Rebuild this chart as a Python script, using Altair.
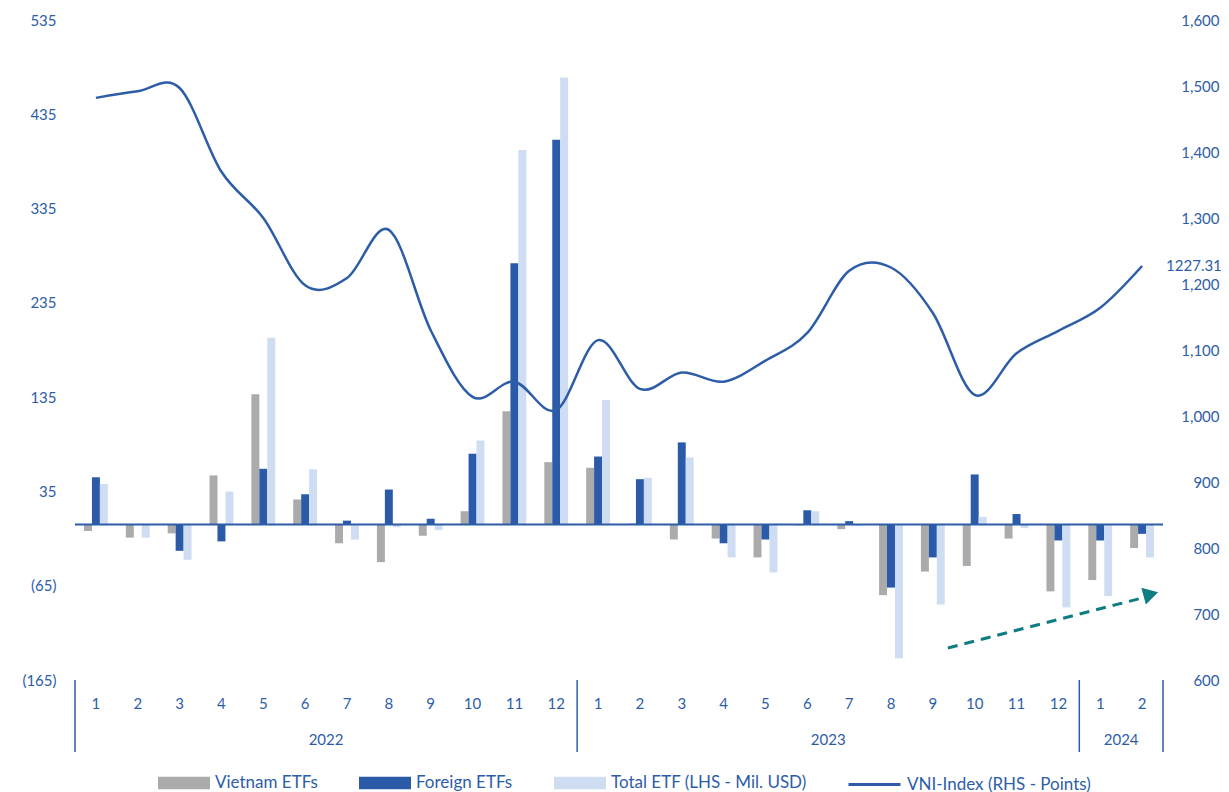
import altair as alt
import pandas as pd

# ---------------- data ----------------
years = [2022] * 12 + [2023] * 12 + [2024] * 2
months = list(range(1, 13)) + list(range(1, 13)) + [1, 2]

vietnam = [-7, -14, -9.5, 52, 138, 26.5, -20, -40, -12, 14, 120, 66,
           60, 1, -16, -15, -35, -1, -5, -75, -50, -44, -15, -71,
           -59, -25]
foreign = [50, 0, -28, -18, 59, 32, 4, 37, 6, 75, 277, 408,
           72, 48, 87, -20, -16, 15, 3.5, -67, -35, 53, 11, -17,
           -17, -10]
total = [43, -14, -37.5, 35, 198, 58.5, -16, -3, -6, 89, 397, 474,
         132, 49.5, 71, -35, -51, 14, -1.5, -142, -85, 8, -4, -88,
         -76, -35]
vni = [1482, 1492, 1497, 1370, 1300, 1198, 1209, 1282, 1130, 1029, 1052, 1009,
       1115, 1041, 1066, 1052, 1084, 1126, 1220, 1225, 1156, 1032, 1095, 1129,
       1164, 1227.31]

bar_series = ["Vietnam ETFs", "Foreign ETFs", "Total ETF (LHS - Mil. USD)"]
bar_colors = ["#ABABAB", "#2B5BA8", "#CFDDF2"]
line_series = ["VNI-Index (RHS - Points)"]
line_colors = ["#2E5DA8"]

year_labels = ["2022", "2023", "2024"]
year_centers = [6, 18, 25]
year_bounds = [0, 12, 24, 26]

left_ticks = [-165, -65, 35, 135, 235, 335, 435, 535]
right_ticks = list(range(600, 1601, 100))
last_label = "1227.31"

# trend arrow annotation (month index, LHS value)
arrow_x = [20.86, 25.5]
arrow_y = [-131, -78]
arrow_head_x = [25.71]
arrow_head_y = [-74]

# ---------------- styling ----------------
FONT = "Lato"
BLUE = "#2E5DA8"
TEAL = "#0E7C80"
W, H = 1088, 660

keys = [f"{y}-{m}" for y, m in zip(years, months)]

bar_rows = []
for i, k in enumerate(keys):
    for s, vals in zip(bar_series, [vietnam, foreign, total]):
        bar_rows.append({"key": k, "series": s, "value": vals[i]})
bar_df = pd.DataFrame(bar_rows)

line_df = pd.DataFrame({"key": keys, "vni": vni, "series": line_series[0]})
label_df = pd.DataFrame({"key": [keys[-1]], "vni": [vni[-1]], "txt": [last_label]})
zero_df = pd.DataFrame({"v": [0]})
year_df = pd.DataFrame({"xq": year_centers, "txt": year_labels})
bound_df = pd.DataFrame({"xq": year_bounds})
arrow_df = pd.DataFrame({"xq": arrow_x, "yv": arrow_y})
head_df = pd.DataFrame({"xq": arrow_head_x, "yv": arrow_head_y})


def band_scale():
    return alt.Scale(type="band", domain=keys, paddingInner=0.43, paddingOuter=0.215)


def left_scale():
    return alt.Scale(domain=[-165, 535], nice=False, zero=False)


def right_scale():
    return alt.Scale(domain=[600, 1600], nice=False, zero=False)


def q_scale():
    return alt.Scale(domain=[0, 26], nice=False, zero=False)


bars = alt.Chart(bar_df).mark_bar().encode(
    x=alt.X("key:N", scale=band_scale(),
            axis=alt.Axis(title=None, labelExpr="split(datum.value, '-')[1]",
                          domain=False, ticks=False, labelPadding=23,
                          labelBaseline="middle", labelAngle=0)),
    xOffset=alt.XOffset("series:N", sort=bar_series,
                        scale=alt.Scale(domain=bar_series, paddingInner=0, paddingOuter=0)),
    y=alt.Y("value:Q", scale=left_scale(),
            axis=alt.Axis(title=None, values=left_ticks, grid=False, domain=False,
                          ticks=False, labelPadding=19,
                          labelExpr="datum.value < 0 ? '(' + format(-datum.value, 'd') + ')' : format(datum.value, 'd')")),
    color=alt.Color("series:N", scale=alt.Scale(domain=bar_series, range=bar_colors),
                    legend=alt.Legend(title=None, orient="none", legendX=83, legendY=737,
                                      direction="horizontal",
                                      symbolType="M-1,-0.24L1,-0.24L1,0.24L-1,0.24Z",
                                      symbolSize=2704, symbolStrokeWidth=0,
                                      labelFontSize=17, labelColor=BLUE, labelFont=FONT,
                                      labelLimit=400, labelOffset=5, columnPadding=41,
                                      padding=0)),
)

zero = alt.Chart(zero_df).mark_rule(color=BLUE, strokeWidth=2).encode(
    y=alt.Y("v:Q", scale=left_scale(), axis=None)
)

line = alt.Chart(line_df).mark_line(interpolate="cardinal", strokeWidth=2.5).encode(
    x=alt.X("key:N", scale=band_scale(), axis=None),
    y=alt.Y("vni:Q", scale=right_scale(),
            axis=alt.Axis(orient="right", title=None, values=right_ticks, format=",d",
                          grid=False, domain=False, ticks=False, labelAlign="right",
                          labelPadding=56)),
    stroke=alt.Stroke("series:N", scale=alt.Scale(domain=line_series, range=line_colors),
                      legend=alt.Legend(title=None, orient="none", legendX=772, legendY=737,
                                        direction="horizontal", symbolType="stroke",
                                        symbolSize=2704, symbolStrokeWidth=3,
                                        labelFontSize=17, labelColor=BLUE, labelFont=FONT,
                                        labelLimit=400, labelOffset=5, padding=0)),
)

last = alt.Chart(label_df).mark_text(align="left", baseline="middle", dx=24, fontSize=15,
                                     font=FONT, color=BLUE).encode(
    x=alt.X("key:N", scale=band_scale(), axis=None),
    y=alt.Y("vni:Q", scale=right_scale(), axis=None),
    text="txt:N",
)

bounds = alt.Chart(bound_df).mark_rule(color=BLUE, strokeWidth=1.5).encode(
    x=alt.X("xq:Q", scale=q_scale(), axis=None),
    y=alt.value(H),
    y2=alt.value(H + 72),
)

yrs = alt.Chart(year_df).mark_text(fontSize=15, font=FONT, color=BLUE, baseline="middle").encode(
    x=alt.X("xq:Q", scale=q_scale(), axis=None),
    y=alt.value(H + 60),
    text="txt:N",
)

arrow = alt.Chart(arrow_df).mark_line(color=TEAL, strokeWidth=3, strokeDash=[10, 7]).encode(
    x=alt.X("xq:Q", scale=q_scale(), axis=None),
    y=alt.Y("yv:Q", scale=left_scale(), axis=None),
)

head = alt.Chart(head_df).mark_point(shape="triangle-right", filled=True, size=300, angle=345,
                                     color=TEAL, opacity=1).encode(
    x=alt.X("xq:Q", scale=q_scale(), axis=None),
    y=alt.Y("yv:Q", scale=left_scale(), axis=None),
)

chart = alt.layer(bars, line, zero, last, bounds, yrs, arrow, head).resolve_scale(
    x="independent", y="independent"
).properties(
    width=W, height=H,
    padding={"left": 67, "top": 12, "right": 58, "bottom": 112},
    autosize=alt.AutoSizeParams(type="none"),
).configure_view(stroke=None).configure_axis(
    labelFont=FONT, labelFontSize=15, labelColor=BLUE
)

chart.save("out.html", embed_options={"renderer": "svg", "actions": False})
